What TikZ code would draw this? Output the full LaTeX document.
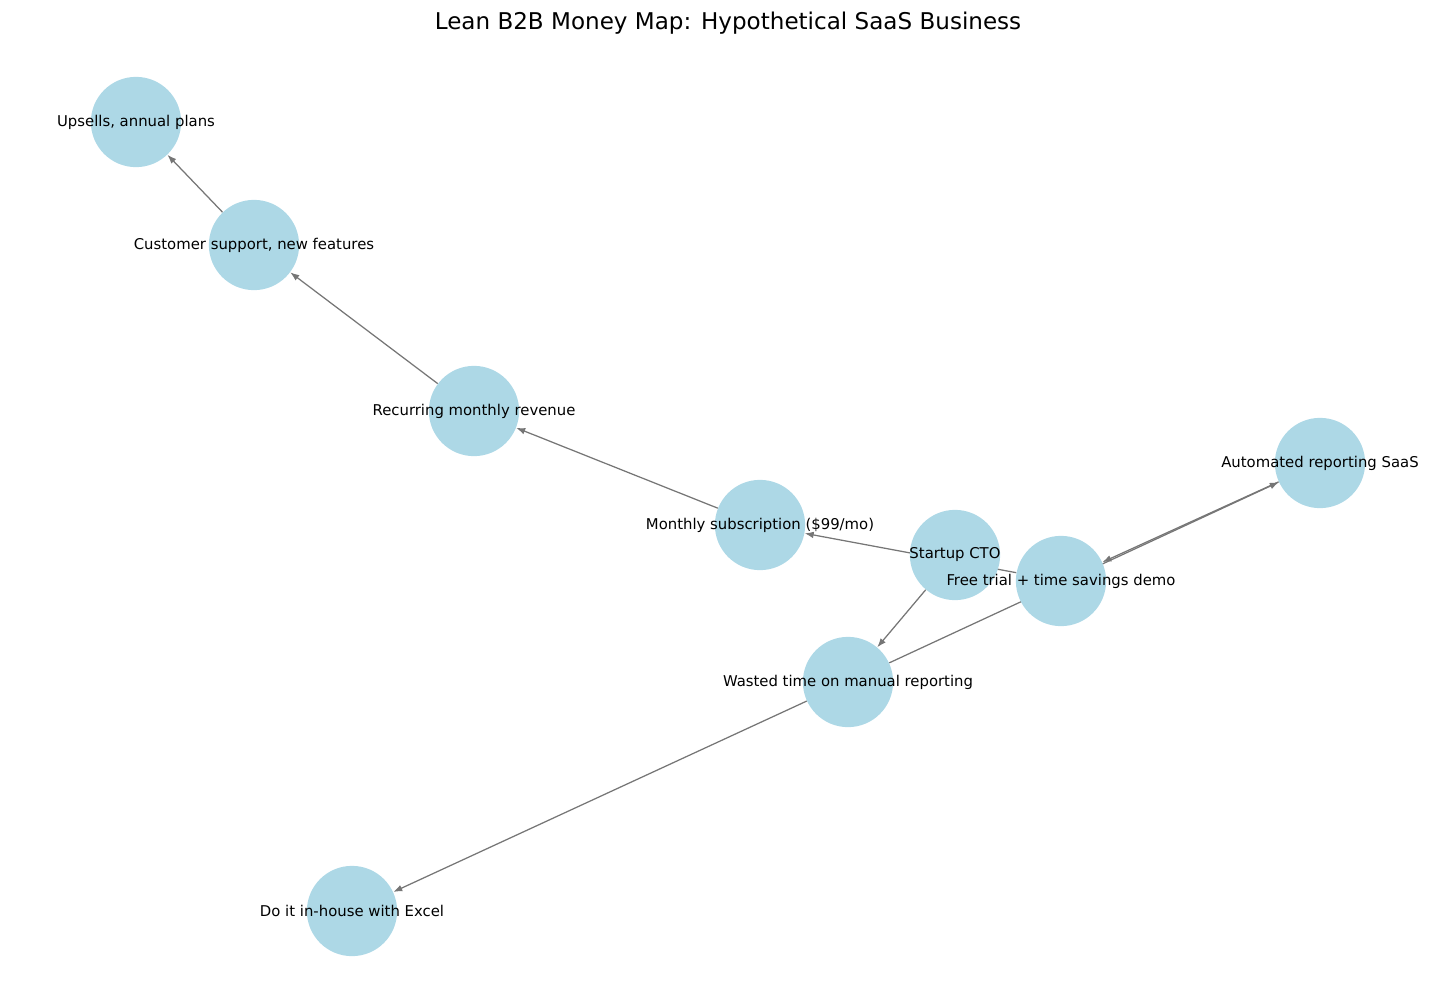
\documentclass[tikz,border=0pt]{standalone}
\usepackage{fontspec}
\setmainfont{DejaVu Sans}
\usetikzlibrary{arrows.meta,backgrounds}
\definecolor{nodeblue}{RGB}{173,216,230}
\definecolor{edgegray}{RGB}{118,118,118}
\newcommand{\lblfont}{\fontsize{10.7}{12}\selectfont}
\tikzset{
  money/.style={circle,fill=nodeblue,draw=none,minimum size=65pt,inner sep=0pt},
  flow/.style={draw=edgegray,line width=0.9pt,-{Latex[length=6.5pt,width=4.8pt]}}
}
\begin{document}
\begin{tikzpicture}[x=0.72pt,y=-0.72pt]
                  \useasboundingbox (0,0) rectangle (1456,1006);
                  % title
                  \node (title) at (728,23) {\fontsize{16.6}{19}\selectfont Lean B2B Money Map: Hypothetical SaaS Business};
                  % nodes
                  \node[money,label={[font=\lblfont]center:Upsells, annual plans}] (upsell) at (136,122) {};
                  \node[money,label={[font=\lblfont]center:Customer support, new features}] (support) at (254,245) {};
                  \node[money,label={[font=\lblfont]center:Recurring monthly revenue}] (recur) at (474,411) {};
                  \node[money,label={[font=\lblfont]center:Monthly subscription (\$99/mo)}] (sub) at (760,525) {};
                  \node[money,label={[font=\lblfont]center:Startup CTO}] (cto) at (955,555) {};
                  \node[money,label={[font=\lblfont]center:Free trial + time savings demo}] (trial) at (1061,581) {};
                  \node[money,label={[font=\lblfont]center:Automated reporting SaaS}] (saas) at (1320,463) {};
                  \node[money,label={[font=\lblfont]center:Wasted time on manual reporting}] (waste) at (848,682) {};
                  \node[money,label={[font=\lblfont]center:Do it in-house with Excel}] (excel) at (352,911) {};
                  % edges, under the nodes
                  \begin{scope}[on background layer]
                    \draw[flow] (cto) -- (waste);
                    \draw[flow] (waste) -- (saas);
                    \draw[flow] (waste) -- (excel);
                    \draw[flow] (saas) -- (trial);
                    \draw[flow] (trial) -- (sub);
                    \draw[flow] (sub) -- (recur);
                    \draw[flow] (recur) -- (support);
                    \draw[flow] (support) -- (upsell);
                  \end{scope}
              \end{tikzpicture}
\end{document}
